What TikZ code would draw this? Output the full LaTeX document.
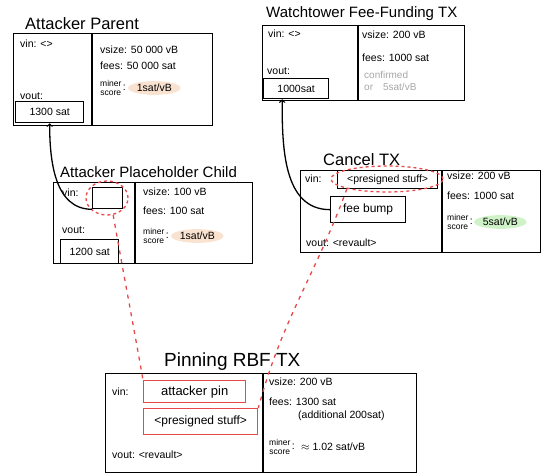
\documentclass[tikz,border=0pt]{standalone}
\usepackage{fontspec}
\setmainfont{Liberation Sans}
\usetikzlibrary{positioning,shapes.geometric}
\definecolor{peach}{RGB}{250,226,208}
\definecolor{mint}{RGB}{208,242,200}
\definecolor{pinred}{RGB}{232,72,72}

\begin{document}
\begin{tikzpicture}[x=1pt,y=1pt]
\useasboundingbox (0,0) rectangle (560,-476);

% Define styles
\tikzstyle{txbox} = [draw=black, line width=1.3pt, anchor=north west, inner sep=0pt]
\tikzstyle{title} = [anchor=south west, font=\fontsize{16.5}{18}\selectfont, inner sep=0pt]
\tikzstyle{field} = [anchor=west, font=\fontsize{10.5}{12}\selectfont, inner sep=0pt]
\tikzstyle{outbox} = [draw=black, line width=1.3pt, anchor=north west, inner sep=0pt, font=\fontsize{10.5}{12}\selectfont]
\tikzstyle{score} = [anchor=west, align=center, font=\fontsize{8.5}{8.5}\selectfont, inner sep=0pt]
\tikzstyle{badge} = [ellipse, anchor=west, inner sep=1pt, font=\fontsize{10.5}{12}\selectfont]
\tikzstyle{ring} = [ellipse, draw=pinred, line width=1.3pt, dashed]
\tikzstyle{pinbox} = [outbox, draw=pinred]
\tikzstyle{arrow} = [->, line width=1.3pt, draw=black]
\tikzstyle{pinlink} = [draw=pinred, line width=1.3pt, dash pattern=on 4pt off 5pt]

% Attacker parent
\node[txbox, minimum width=199pt, minimum height=92pt] (parent) at (13,-33) {};
\node[title] (parentTitle) at (25,-30) {Attacker Parent};
\draw[line width=1.3pt] (92,-33) -- (92,-125);
\node[field] (parentIn) at (20,-44) {vin: <>};
\node[field] (parentVout) at (20,-96) {vout:};
\node[outbox, minimum width=68pt, minimum height=21pt] (parentOut) at (15,-101) {1300 sat};
\node[field] (parentSize) at (100,-50) {vsize: 50 000 vB};
\node[field] (parentFees) at (100,-66) {fees: 50 000 sat};
\node[score] (parentScore) at (100,-88) {miner\\score};
\node[field, right=1pt of parentScore] (parentColon) {:};
\node[badge, fill=peach, right=2pt of parentColon] (parentRate) {1sat/vB};

% Watchtower fee-funding tx
\node[txbox, minimum width=202pt, minimum height=75pt] (watch) at (262,-25) {};
\node[title, font=\fontsize{15}{17}\selectfont] (watchTitle) at (266,-21) {Watchtower Fee-Funding TX};
\draw[line width=1.3pt] (358,-25) -- (358,-100);
\node[field] (watchIn) at (268,-34) {vin: <>};
\node[field] (watchVout) at (267,-71) {vout:};
\node[outbox, minimum width=65pt, minimum height=20pt] (watchOut) at (263,-78) {1000sat};
\node[field] (watchSize) at (362,-35) {vsize: 200 vB};
\node[field] (watchFees) at (362,-58) {fees: 1000 sat};
\node[field, gray!70, align=left, font=\fontsize{10}{12}\selectfont] (watchState) at (364,-81) {confirmed\\ or\quad 5sat/vB};

% Attacker placeholder child
\node[txbox, minimum width=199pt, minimum height=81pt] (child) at (53,-182) {};
\node[title, font=\fontsize{15}{17}\selectfont] (childTitle) at (60,-178) {Attacker Placeholder Child};
\draw[line width=1.3pt] (135,-182) -- (135,-263);
\node[field] (childVin) at (62,-193) {vin:};
\node[outbox, minimum width=30pt, minimum height=21pt] (childIn) at (92,-187) {};
\node[ring, minimum width=42pt, minimum height=34pt] (childRing) at (107,-198) {};
\node[field] (childVout) at (62,-230) {vout:};
\node[outbox, minimum width=58pt, minimum height=24pt] (childOut) at (60,-239) {1200 sat};
\node[field] (childSize) at (143,-192) {vsize: 100 vB};
\node[field] (childFees) at (143,-211) {fees: 100 sat};
\node[score] (childScore) at (143,-236) {miner\\score};
\node[field, right=1pt of childScore] (childColon) {:};
\node[badge, fill=peach, right=2pt of childColon] (childRate) {1sat/vB};

% Cancel tx
\node[txbox, minimum width=240pt, minimum height=82pt] (cancel) at (300,-170) {};
\node[title] (cancelTitle) at (323,-166) {Cancel TX};
\draw[line width=1.3pt] (442,-170) -- (442,-252);
\node[field] (cancelVin) at (305,-179) {vin:};
\node[outbox, minimum width=100pt, minimum height=18pt] (cancelIn) at (337,-170) {<presigned stuff>};
\node[ring, minimum width=112pt, minimum height=26pt, inner sep=0pt] (cancelRing) at (387,-179) {};
\node[outbox, minimum width=75pt, minimum height=26pt, font=\fontsize{12}{13}\selectfont] (cancelBump) at (330,-196) {fee bump};
\node[field] (cancelVout) at (306,-243) {vout: <revault>};
\node[field] (cancelSize) at (447,-176) {vsize: 200 vB};
\node[field] (cancelFees) at (447,-196) {fees: 1000 sat};
\node[score] (cancelScore) at (447,-222) {miner\\score};
\node[field, right=1pt of cancelScore] (cancelColon) {:};
\node[badge, fill=mint, right=1pt of cancelColon] (cancelRate) {5sat/vB};

% Pinning rbf tx
\node[txbox, minimum width=311pt, minimum height=99pt] (pin) at (105,-373) {};
\node[title, font=\fontsize{19}{21}\selectfont] (pinTitle) at (164,-371) {Pinning RBF TX};
\draw[line width=1.3pt] (263,-373) -- (263,-472);
\node[field] (pinVin) at (112,-392) {vin:};
\node[pinbox, minimum width=102pt, minimum height=22pt, font=\fontsize{13}{14}\selectfont] (pinAttacker) at (143,-380) {attacker pin};
\node[pinbox, minimum width=114pt, minimum height=26pt, font=\fontsize{12}{13}\selectfont] (pinPresigned) at (143,-408) {<presigned stuff>};
\node[field] (pinVout) at (112,-455) {vout: <revault>};
\node[field] (pinSize) at (269,-382) {vsize: 200 vB};
\node[field] (pinFees) at (269,-402) {fees: 1300 sat};
\node[field] (pinExtra) at (298,-416) {(additional 200sat)};
\node[score] (pinScore) at (269,-447) {miner\\score};
\node[field, right=1pt of pinScore] (pinColon) {:};
\node[field, right=6pt of pinColon] (pinRate) {$\approx$ 1.02 sat/vB};

% Relationships (arrows)
\draw[arrow] (childIn.south west) to[out=180, in=-90] (parentOut.south);
\draw[arrow] (cancelBump.west) to[out=180, in=-90] ([xshift=-14pt]watchOut.south);

\draw[pinlink] (childRing.-70) to[out=-80, in=100] (pinAttacker.north west);
\draw[pinlink] (cancelRing.south west) to[out=-110, in=75] (pinPresigned.north east);

\end{tikzpicture}
\end{document}
